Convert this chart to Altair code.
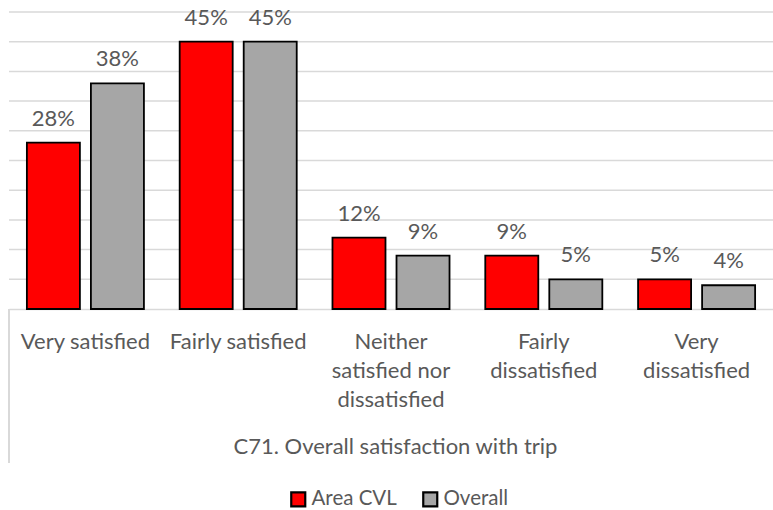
import altair as alt
import pandas as pd

# Response categories (line breaks mark how the axis labels wrap)
categories = [
    "Very satisfied",
    "Fairly satisfied",
    "Neither\nsatisfied nor\ndissatisfied",
    "Fairly\ndissatisfied",
    "Very\ndissatisfied",
]
series = ["Area CVL", "Overall"]
area_cvl = [28, 45, 12, 9, 5]
overall = [38, 45, 9, 5, 4]
grid_values = [5, 10, 15, 20, 25, 30, 35, 40, 45, 50]

rows = []
for cat, a, o in zip(categories, area_cvl, overall):
    rows.append({"category": cat, "series": series[0], "value": a})
    rows.append({"category": cat, "series": series[1], "value": o})
df = pd.DataFrame(rows)
grid_df = pd.DataFrame({"value": grid_values})

FONT = "Lato"
TEXT = "#595959"
GRID = "#d9d9d9"

x_enc = alt.X(
    "category:N",
    sort=categories,
    scale=alt.Scale(paddingInner=0.234, paddingOuter=0.117),
    axis=alt.Axis(
        title="C71. Overall satisfaction with trip",
        labelExpr="split(datum.value, '\\n')",
        labelAngle=0,
        labelFont=FONT,
        labelFontSize=22,
        labelColor=TEXT,
        labelLineHeight=29,
        labelPadding=22,
        labelOverlap=False,
        labelBound=False,
        labelLimit=300,
        ticks=False,
        domainColor=GRID,
        domainWidth=1.5,
        titleFont=FONT,
        titleFontSize=22,
        titleFontWeight="normal",
        titleColor=TEXT,
        titleX=386,
        titleY=137,
        titleBaseline="middle",
        titleAnchor="middle",
    ),
)
xo_enc = alt.XOffset(
    "series:N", sort=series, scale=alt.Scale(paddingInner=0.172, paddingOuter=0)
)
y_enc = alt.Y(
    "value:Q",
    scale=alt.Scale(domain=[0, 50], nice=False),
    axis=None,
)

# Horizontal gridlines every 5 points
grid = alt.Chart(grid_df).mark_rule(color=GRID, strokeWidth=1.5).encode(y=y_enc)

bars = alt.Chart(df).mark_bar(stroke="black", strokeWidth=1.8).encode(
    x=x_enc,
    xOffset=xo_enc,
    y=y_enc,
    color=alt.Color(
        "series:N",
        sort=series,
        scale=alt.Scale(domain=series, range=["#ff0000", "#a6a6a6"]),
        legend=alt.Legend(
            title=None,
            orient="none",
            direction="horizontal",
            legendX=279,
            legendY=477,
            symbolType="square",
            symbolSize=196,
            symbolStrokeColor="black",
            symbolStrokeWidth=2.2,
            labelFont=FONT,
            labelFontSize=20.5,
            labelColor=TEXT,
            labelOffset=3,
            columnPadding=21,
        ),
    ),
)

labels = alt.Chart(df).mark_text(
    baseline="alphabetic", dy=-17, font=FONT, fontSize=22, color=TEXT
).encode(
    x=x_enc,
    xOffset=xo_enc,
    y=y_enc,
    text=alt.Text("label:N"),
).transform_calculate(label="datum.value + '%'")

# Left edge of the category-axis frame
frame = alt.Chart(df).mark_rule(color=GRID, strokeWidth=1.5).encode(
    x=alt.value(0), y=alt.value(297), y2=alt.value(451)
)

chart = (
    alt.layer(grid, bars, labels, frame)
    .properties(
        width=764,
        height=297,
        padding={"left": 9, "top": 12, "right": 0, "bottom": 201},
        autosize=alt.AutoSizeParams(type="none"),
        background="white",
    )
    .configure_view(stroke=None)
)

chart.save("out.html", embed_options={"renderer": "svg", "actions": False})
